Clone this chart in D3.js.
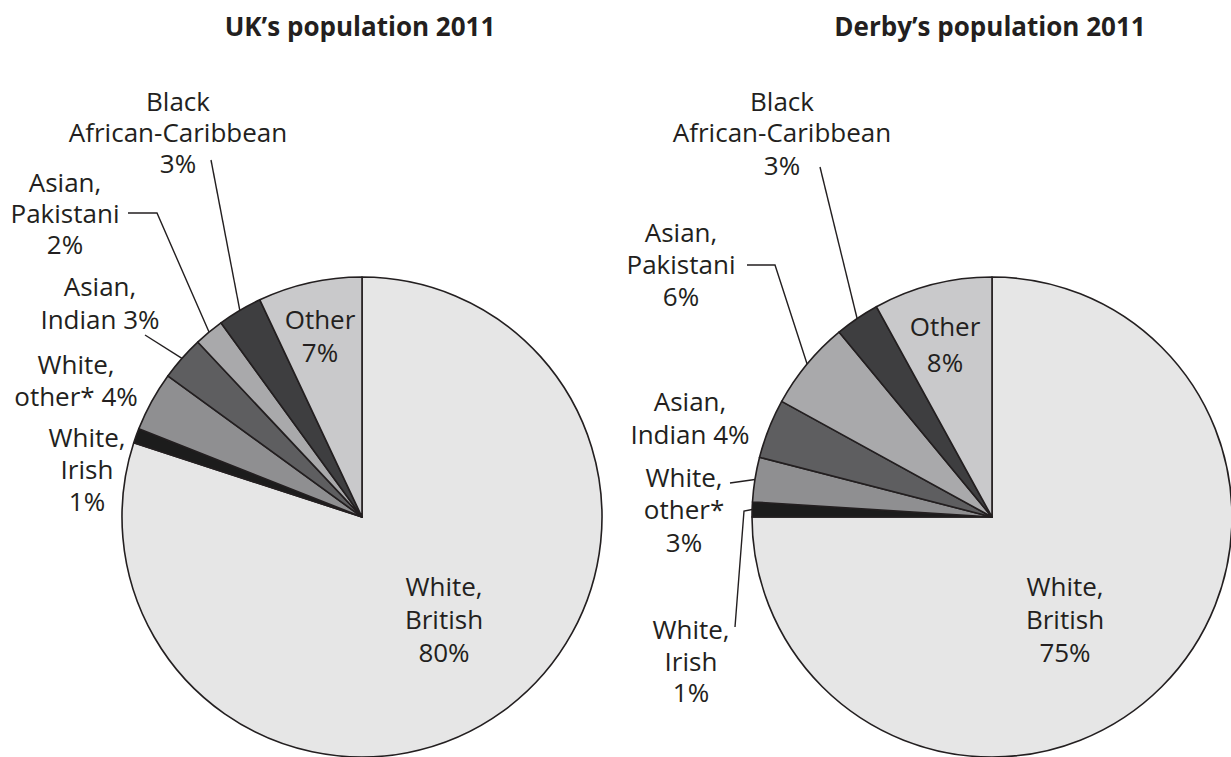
<!DOCTYPE html>
<html>
<head>
<meta charset="utf-8">
<script src="https://cdn.jsdelivr.net/npm/d3@7"></script>
<style>
  body { margin: 0; background: #fff; }
  svg text { font-family: "Open Sans", "Noto Sans", sans-serif; fill: #231f20; }
</style>
</head>
<body>
<div id="chart"></div>
<script>
//chart data
const categories = ["White, British", "White, Irish", "White, other*", "Asian, Indian", "Asian, Pakistani", "Black African-Caribbean", "Other"];
const ukValues = [80, 1, 4, 3, 2, 3, 7];
const derbyValues = [75, 1, 3, 4, 6, 3, 8];
const titles = ["UK\u2019s population 2011", "Derby\u2019s population 2011"];
const sliceColors = ["#e6e6e6", "#1c1c1c", "#8f8f91", "#5e5e60", "#a9a9ab", "#3e3e40", "#c9c9cb"];

const width = 1231, height = 757;
const radius = 240;

//label layouts, relative to pie centre ("%v" is replaced by the value)
const ukLabels = [
    { lines: ["White,", "British", "%v%"], x: 82, y: [70, 103, 136] },
    { lines: ["White,", "Irish", "%v%"], x: -275, y: [-79, -47, -15] },
    { lines: ["White,", "other* %v%"], x: -286, y: [-152, -120] },
    { lines: ["Asian,", "Indian %v%"], x: -262, y: [-230, -197], leader: [[-217, -182]] },
    { lines: ["Asian,", "Pakistani", "%v%"], x: -297, y: [-334, -303, -272], leader: [[-234, -304], [-205, -304]] },
    { lines: ["Black", "African-Caribbean", "%v%"], x: -184, y: [-415, -384, -353], leader: [[-151, -357]] },
    { lines: ["Other", "%v%"], x: -42, y: [-197, -164] }
];
const derbyLabels = [
    { lines: ["White,", "British", "%v%"], x: 73, y: [70, 103, 136] },
    { lines: ["White,", "Irish", "%v%"], x: -301, y: [113, 145, 176], leader: [[-257, 110], [-248, -6]] },
    { lines: ["White,", "other*", "%v%"], x: -308, y: [-39, -7, 26], leader: [[-262, -34]] },
    { lines: ["Asian,", "Indian %v%"], x: -302, y: [-115, -82] },
    { lines: ["Asian,", "Pakistani", "%v%"], x: -311, y: [-284, -252, -220], leader: [[-245, -252], [-217, -252]] },
    { lines: ["Black", "African-Caribbean", "%v%"], x: -210, y: [-415, -384, -351], leader: [[-172, -350]] },
    { lines: ["Other", "%v%"], x: -47, y: [-190, -154] }
];

const svg = d3.select("#chart").append("svg")
    .attr("width", width)
    .attr("height", height);

//draw one pie with its title and labels
function drawPie(values, labels, title, cx, cy, titleX) {
    const data = categories.map(function(c, i) { return { name: c, value: values[i], color: sliceColors[i], label: labels[i] }; });

    const pie = d3.pie().sort(null).value(function(d) { return d.value; });
    const arc = d3.arc().innerRadius(0).outerRadius(radius);
    const arcs = pie(data);

    const g = svg.append("g").attr("transform", "translate(" + cx + "," + cy + ")");

    g.selectAll("path")
        .data(arcs)
        .enter().append("path")
        .attr("d", arc)
        .attr("fill", function(d) { return d.data.color; })
        .attr("stroke", "#231f20")
        .attr("stroke-width", 1.6)
        .attr("stroke-linejoin", "round");

    //leader lines end on the arc at the slice mid angle
    g.selectAll("polyline")
        .data(arcs.filter(function(d) { return d.data.label.leader; }))
        .enter().append("polyline")
        .attr("points", function(d) {
            const mid = (d.startAngle + d.endAngle) / 2;
            const end = [Math.sin(mid) * radius, -Math.cos(mid) * radius];
            return d.data.label.leader.concat([end]).map(function(p) { return p.join(","); }).join(" ");
        })
        .attr("fill", "none")
        .attr("stroke", "#231f20")
        .attr("stroke-width", 1.4);

    //labels, one text element per slice with a tspan per line
    const labelText = g.selectAll("text.label")
        .data(arcs)
        .enter().append("text")
        .attr("class", "label")
        .attr("text-anchor", "middle")
        .attr("font-size", "26px");

    labelText.selectAll("tspan")
        .data(function(d) {
            const lab = d.data.label;
            return lab.lines.map(function(line, i) {
                return { text: line.replace("%v", d.data.value), x: lab.x, y: lab.y[i] };
            });
        })
        .enter().append("tspan")
        .attr("x", function(d) { return d.x; })
        .attr("y", function(d) { return d.y; })
        .attr("dy", "0.35em")
        .text(function(d) { return d.text; });

    //title
    svg.append("text")
        .attr("x", titleX)
        .attr("y", 27)
        .attr("dy", "0.35em")
        .attr("text-anchor", "middle")
        .attr("font-size", "26px")
        .attr("font-weight", "bold")
        .text(title);
}

drawPie(ukValues, ukLabels, titles[0], 362, 517, 360);
drawPie(derbyValues, derbyLabels, titles[1], 992, 517, 990);
</script>
</body>
</html>
